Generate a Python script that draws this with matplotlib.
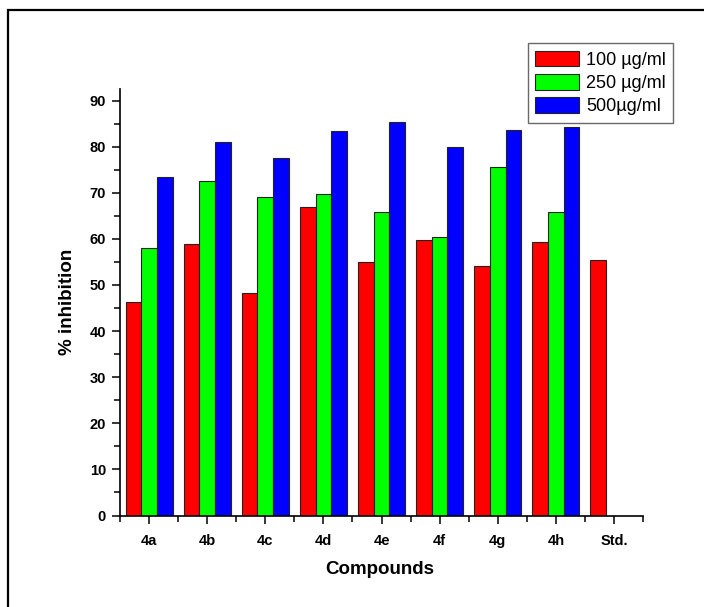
import matplotlib
matplotlib.use("Agg")
import matplotlib.pyplot as plt
import numpy as np
from matplotlib.patches import Rectangle
from matplotlib.ticker import MultipleLocator, FixedLocator

categories = ["4a", "4b", "4c", "4d", "4e", "4f", "4g", "4h", "Std."]
series_names = ["100 \u00b5g/ml", "250 \u00b5g/ml", "500\u00b5g/ml"]
vals_100 = [46.3, 58.8, 48.3, 67.0, 55.0, 59.8, 54.2, 59.4, 55.5]
vals_250 = [58.0, 72.6, 69.1, 69.7, 65.9, 60.3, 75.6, 65.9, np.nan]
vals_500 = [73.4, 80.9, 77.5, 83.3, 85.4, 79.9, 83.5, 84.2, np.nan]
colors = ["#ff0000", "#00ff00", "#0000ff"]

plt.rcParams["font.family"] = ["Liberation Sans", "DejaVu Sans"]

W, H = 704, 607
fig = plt.figure(figsize=(W / 100, H / 100), dpi=100)
fig.patch.set_facecolor("white")

# outer frame
fig.patches.append(Rectangle((8 / W, -0.1), 1.2, 1 - 10 / H + 0.1,
                             transform=fig.transFigure, fill=False,
                             edgecolor="black", linewidth=1.6, zorder=0))

ax = fig.add_axes([120 / W, 91.5 / H, (643 - 120) / W, (515.5 - 89) / H])
x = np.arange(len(categories))
bw = 0.27
series = [vals_100, vals_250, vals_500]
handles = []
for i, (vals, c, name) in enumerate(zip(series, colors, series_names)):
    b = ax.bar(x + (i - 1) * bw, vals, width=bw, color=c, edgecolor="#222222",
               linewidth=0.8, label=name)
    handles.append(b)

ax.set_xlim(-0.5, len(categories) - 0.5)
ax.set_ylim(0, 92.5)
ax.set_xticks(x)
ax.set_xticklabels(categories, fontsize=10.5, fontweight="bold")
ax.xaxis.set_minor_locator(FixedLocator(np.arange(-0.5, len(categories), 1.0)))
ax.yaxis.set_major_locator(MultipleLocator(10))
ax.yaxis.set_minor_locator(MultipleLocator(5))
for lab in ax.get_yticklabels():
    lab.set_fontweight("bold")
    lab.set_fontsize(10.5)
ax.tick_params(axis="both", which="major", direction="out", length=6, width=1.1, pad=7)
ax.tick_params(axis="both", which="minor", direction="out", length=4, width=1.1)
ax.tick_params(axis="y", which="major", pad=4)
for s in ["top", "right"]:
    ax.spines[s].set_visible(False)
for s in ["left", "bottom"]:
    ax.spines[s].set_linewidth(1.2)
ax.set_facecolor("none")

fig.text(380 / W, 1 - 569 / H, "Compounds", fontsize=13.5, fontweight="bold",
         ha="center", va="center")
fig.text(67 / W, 1 - 302 / H, "% inhibition", fontsize=13.5, fontweight="bold",
         ha="center", va="center", rotation=90)

leg = fig.legend(handles=handles, labels=series_names, loc="upper right",
                 bbox_to_anchor=(673 / W, 1 - 43.3 / H), fontsize=13,
                 frameon=True, fancybox=False, edgecolor="#444444",
                 handlelength=2.4, handleheight=0.95, handletextpad=0.4,
                 labelspacing=0.3, borderpad=0.4, borderaxespad=0)
leg.get_frame().set_linewidth(1.0)

fig.savefig("out.png", dpi=100)
